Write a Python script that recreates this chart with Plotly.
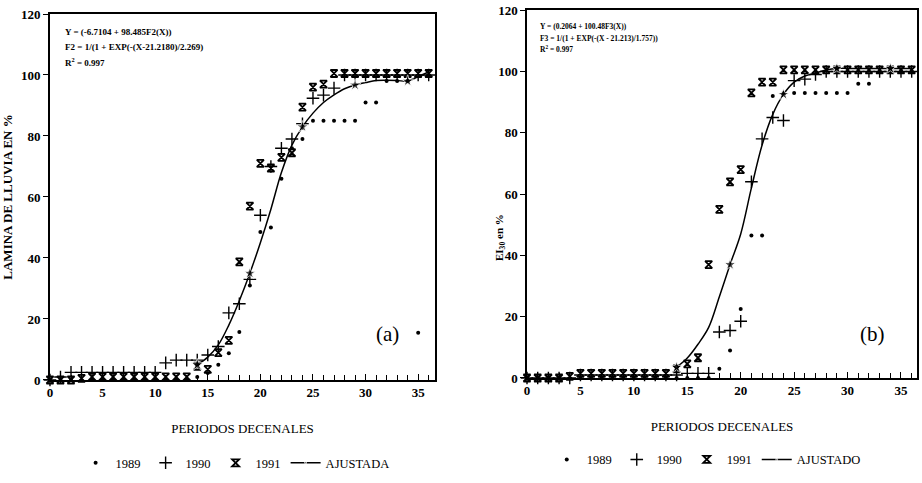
import plotly.graph_objects as go

# ---------------- data ----------------
periods = list(range(37))

# panel (a) LAMINA DE LLUVIA EN %
a_1989 = [0, 0, 0, 0, 0, 0, 0, 0, 0, 0, 0, 0, 0, 0, 1, 2.3, 5, 8.8, 15.7, 31,
          48.5, 50, 66, 76, 79, 85, 85, 85, 85, 85, 91, 91, 98, 98, 98, 15.5, 100]
a_1990 = [0, 1, 2.5, 2.5, 2.5, 2.5, 2.5, 2.5, 2.5, 2.5, 2.5, 5.6, 6.5, 6.5, 6.5, 8.2, 11,
          22, 25, 33, 54, 70, 76, 79, 84, 92.4, 93.4, 95.7, 100, 100, 100, 100, 100, 100,
          100, 100, 100]
a_1991 = [0, 0, 0, 0.5, 1, 1, 1, 1, 1, 1, 1, 1, 1, 1, 4.5, 3.5, 9, 13, 38.7, 57, 71,
          69.5, 73, 74.5, 89.5, 96, 97, 100.5, 100.5, 100.5, 100.5, 100.5, 100.5, 100.5,
          100.5, 100.5, 100.5]
a_fit_x = list(range(14, 37))
a_fit_y = [5, 7.5, 11.5, 18, 26, 35, 45, 56, 68, 77, 83, 87.5, 91, 93.5, 95.5, 96.7,
           97.5, 98.2, 98.3, 98.2, 98, 99.5, 101]

# panel (b) EI30 en %
b_1989 = [0, 0, 0, 0, 0, 0, 0, 0, 0, 0, 0, 0, 0, 0, 0, 0, 0, 0, 3, 9, 22.5, 46.5, 46.5,
          92, 93, 93, 93, 93, 93, 93, 93, 96, 96, 100, 100, 100, 100]
b_1990 = [0, 0, 0, 0, 0, 1, 1, 1, 1, 1, 1, 1, 1, 1, 1, 1.5, 1.5, 1.5, 15, 15.5, 18.5,
          64, 78, 85, 84, 97, 97.5, 99, 100, 100, 100, 100, 100, 100, 100, 100, 100]
b_1991 = [0, 0, 0, 0, 0.5, 1.5, 1.5, 1.5, 1.5, 1.5, 1.5, 1.5, 1.5, 1.5, 3, 4.6, 6.6, 37,
          55, 64, 68, 93, 96.5, 96.5, 100.5, 100.5, 100.5, 100.5, 100.5, 100.5, 100.5,
          100.5, 100.5, 100.5, 100.5, 100.5, 100.5]
b_fit_x = list(range(14, 37))
b_fit_y = [3.5, 6.5, 11, 16.5, 26.5, 37, 47, 62, 76, 86, 92.5, 96.5, 98.5, 99.5, 100.5,
           101, 101, 101, 101, 101, 101, 101, 101]

fit_marked = [14, 19, 24, 29, 34]

x_ticks = [0, 5, 10, 15, 20, 25, 30, 35]
y_ticks = [0, 20, 40, 60, 80, 100, 120]

eq_a = ["Y = (-6.7104 + 98.485F2(X))",
        "F2 = 1/(1 + EXP(-(X-21.2180)/2.269)",
        "R<sup>2</sup> = 0.997"]
eq_b = ["Y = (0.2064 + 100.48F3(X))",
        "F3 = 1/(1 + EXP(-(X - 21.213)/1.757))",
        "R<sup>2</sup> = 0.997"]

# ---------------- figure ----------------
SERIF = "Liberation Serif, Times New Roman, serif"
fig = go.Figure()


def add_panel(xa, ya, leg, d89, d90, d91, fx, fy, fitname):
    fig.add_trace(go.Scatter(x=periods, y=d89, mode="markers", name="1989",
                             xaxis=xa, yaxis=ya, legend=leg, cliponaxis=False,
                             marker=dict(symbol="circle", size=4, color="black")))
    fig.add_trace(go.Scatter(x=periods, y=d90, mode="markers", name="1990",
                             xaxis=xa, yaxis=ya, legend=leg, cliponaxis=False,
                             marker=dict(symbol="cross-thin-open", size=9, color="black",
                                         line=dict(width=1.4, color="black"))))
    fig.add_trace(go.Scatter(x=periods, y=d91, mode="markers", name="1991",
                             xaxis=xa, yaxis=ya, legend=leg, cliponaxis=False,
                             marker=dict(symbol="hourglass-open", size=7, color="black",
                                         line=dict(width=1.8, color="black"))))
    sizes = [9 if x in fit_marked else 0 for x in fx]
    fig.add_trace(go.Scatter(x=fx, y=fy, mode="lines+markers", name=fitname,
                             xaxis=xa, yaxis=ya, legend=leg, cliponaxis=False,
                             line=dict(color="black", width=1.5, shape="spline"),
                             marker=dict(symbol="star", size=sizes, color="black")))


add_panel("x", "y", "legend", a_1989, a_1990, a_1991, a_fit_x, a_fit_y, "AJUSTADA")
add_panel("x2", "y2", "legend2", b_1989, b_1990, b_1991, b_fit_x, b_fit_y, "AJUSTADO")

tickfont = dict(family=SERIF, size=13, color="black", weight="bold")


def xax(domain, rng, anchor):
    return dict(domain=domain, range=rng, anchor=anchor, tickvals=x_ticks,
                ticks="inside", ticklen=6, tickwidth=1, tickcolor="black",
                minor=dict(dtick=1, tick0=0, ticks="inside", ticklen=5,
                           tickcolor="black", tickwidth=1),
                showline=True, linecolor="black", linewidth=1.5, mirror=True,
                showgrid=False, zeroline=False, tickfont=tickfont, automargin=False,
                title=dict(text="PERIODOS DECENALES", standoff=25,
                           font=dict(family=SERIF, size=13, color="black")))


def yax(domain, anchor):
    return dict(domain=domain, range=[0, 120], anchor=anchor, tickvals=y_ticks,
                ticks="outside", ticklen=5, tickwidth=1, tickcolor="black",
                showline=True, linecolor="black", linewidth=1.5, mirror=True,
                showgrid=False, zeroline=False, tickfont=tickfont, automargin=False)


ya = yax([0.2133, 0.971], "x")
ya["title"] = dict(text="LAMINA DE LLUVIA EN %", standoff=6,
                   font=dict(family=SERIF, size=13, color="black", weight="bold"))

legfont = dict(family=SERIF, size=12.5, color="black")

fig.update_layout(
    width=922, height=483,
    margin=dict(l=0, r=0, t=0, b=0, autoexpand=False),
    paper_bgcolor="white", plot_bgcolor="white",
    xaxis=xax([0.0542, 0.4718], [0, 36.6], "y"),
    yaxis=ya,
    xaxis2=xax([0.5716, 0.9946], [0, 36.5], "y2"),
    yaxis2=yax([0.2174, 0.979], "x2"),
    legend=dict(orientation="h", x=0.255, y=0.041, xanchor="center", yanchor="middle",
                font=legfont, itemwidth=30, bgcolor="rgba(0,0,0,0)", tracegroupgap=0),
    legend2=dict(orientation="h", x=0.766, y=0.048, xanchor="center", yanchor="middle",
                 font=legfont, itemwidth=30, bgcolor="rgba(0,0,0,0)", tracegroupgap=0),
    showlegend=True,
)

ann = []
eqfont_a = dict(family=SERIF, size=9, color="black", weight="bold")
eqfont_b = dict(family=SERIF, size=7.5, color="black", weight="bold")
for i, t in enumerate(eq_a):
    ann.append(dict(text=t, xref="paper", yref="paper", x=63 / 922, y=1 - (32 + 15 * i) / 483,
                    xanchor="left", yanchor="middle", showarrow=False, font=eqfont_a))
for i, t in enumerate(eq_b):
    ann.append(dict(text=t, xref="paper", yref="paper", x=538 / 922, y=1 - (27 + 11 * i) / 483,
                    xanchor="left", yanchor="middle", showarrow=False, font=eqfont_b))
ann.append(dict(text="(a)", xref="paper", yref="paper", x=387 / 922, y=1 - 348 / 483,
                showarrow=False, font=dict(family=SERIF, size=21, color="black")))
ann.append(dict(text="(b)", xref="paper", yref="paper", x=887 / 922, y=1 - 348 / 483,
                showarrow=False, font=dict(family=SERIF, size=21, color="black")))
ann.append(dict(text="EI<sub>30</sub> en %", xref="paper", yref="paper", x=500 / 922,
                y=1 - 238 / 483, textangle=-90, showarrow=False,
                font=dict(family=SERIF, size=11, color="black", weight="bold")))
fig.update_layout(annotations=ann)

fig.write_html("out.html", config={"displayModeBar": False},
               post_script="document.body.style.margin='0px';document.body.style.overflow='hidden';")
